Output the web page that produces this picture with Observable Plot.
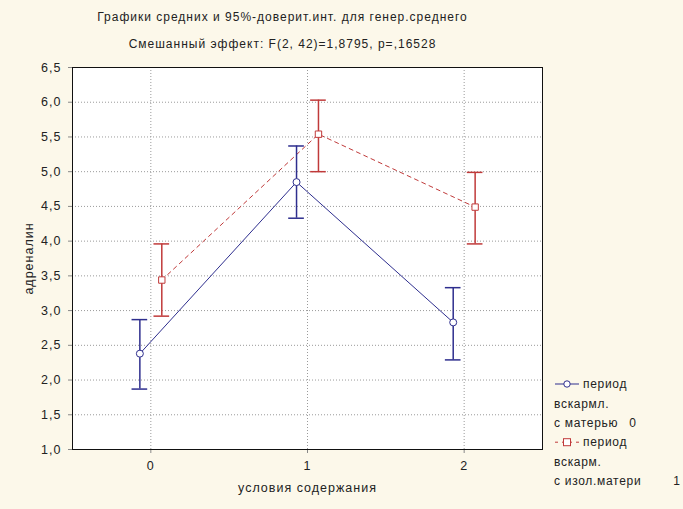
<!DOCTYPE html>
<html><head><meta charset="utf-8">
<script src="https://cdn.jsdelivr.net/npm/d3@7"></script>
<script src="https://cdn.jsdelivr.net/npm/@observablehq/plot@0.6"></script>
<style>
body{margin:0;background:#fcf8ea;}
#chart{width:683px;height:509px;}
#chart svg{font-family:"Liberation Sans",Arial,sans-serif;background:#fcf8ea;}
</style></head><body><div id="chart"></div>
<script>
const conditions = [0, 1, 2];
const meanMother = [2.38, 4.85, 2.83];
const lowMother  = [1.87, 4.33, 2.29];
const highMother = [2.87, 5.37, 3.33];
const meanIsol   = [3.44, 5.54, 4.49];
const lowIsol    = [2.92, 5.00, 3.96];
const highIsol   = [3.96, 6.03, 4.99];
const yTicks = [1.0, 1.5, 2.0, 2.5, 3.0, 3.5, 4.0, 4.5, 5.0, 5.5, 6.0, 6.5];
const titleLines = ["Графики средних и 95%-доверит.инт. для генер.среднего",
                    "Смешанный эффект: F(2, 42)=1,8795, p=,16528"];
const legendLines = [["период", "вскармл.", "с матерью", "0"],
                     ["период", "вскарм.", "с изол.матери", "1"]];
const yLabel = "адреналин";
const xLabel = "условия содержания";

const BLUE = "#2e2e8e", RED = "#c03a3a";
const offset = [-0.07, 0.07];
const capHalf = 0.05;

const rows = [];
conditions.forEach((c, i) => {
  rows.push({cond: c, group: 0, mean: meanMother[i], lo: lowMother[i], hi: highMother[i]});
  rows.push({cond: c, group: 1, mean: meanIsol[i], lo: lowIsol[i], hi: highIsol[i]});
});
const mother = rows.filter(d => d.group === 0);
const isol = rows.filter(d => d.group === 1);
const xpos = d => d.cond + offset[d.group];
const fmt = v => v.toFixed(1).replace(".", ",");
const gridStyle = {stroke: "#9a9a9a", strokeOpacity: 1, strokeDasharray: "1,2"};

const plot = Plot.plot({
  width: 683, height: 509,
  marginLeft: 72, marginRight: 141, marginTop: 67, marginBottom: 60,
  style: {fontFamily: "Liberation Sans, Arial, sans-serif", fontSize: "12px", background: "#fcf8ea", color: "#222", letterSpacing: "1px"},
  x: {domain: [-0.5, 2.5]},
  y: {domain: [1, 6.5]},
  color: {domain: [0, 1], range: [BLUE, RED]},
  marks: [
    Plot.frame({fill: "white", stroke: null}),
    Plot.gridY(yTicks.slice(1, -1), gridStyle),
    Plot.gridX(conditions, gridStyle),
    Plot.line(mother, {x: xpos, y: "mean", stroke: BLUE, strokeWidth: 1}),
    Plot.line(isol, {x: xpos, y: "mean", stroke: RED, strokeWidth: 1, strokeDasharray: "4,4"}),
    Plot.ruleX(rows, {x: xpos, y1: "lo", y2: "hi", stroke: "group", strokeWidth: 1.5}),
    Plot.ruleY(rows, {y: "lo", x1: d => xpos(d) - capHalf, x2: d => xpos(d) + capHalf, stroke: "group", strokeWidth: 1.5}),
    Plot.ruleY(rows, {y: "hi", x1: d => xpos(d) - capHalf, x2: d => xpos(d) + capHalf, stroke: "group", strokeWidth: 1.5}),
    Plot.dot(mother, {x: xpos, y: "mean", symbol: "circle", r: 3.5, fill: "white", stroke: BLUE, strokeWidth: 1}),
    Plot.dot(isol, {x: xpos, y: "mean", symbol: "square", r: 3.6, fill: "white", stroke: RED, strokeWidth: 1}),
    Plot.axisY(yTicks, {tickFormat: fmt, tickSize: 4, tickPadding: 7, stroke: "#888", fontSize: 12.5,
      label: yLabel, labelAnchor: "center", labelArrow: "none", labelOffset: 48}),
    Plot.axisX(conditions, {tickFormat: d => String(d), tickSize: 4, tickPadding: 8, stroke: "#888", fontSize: 12.5,
      label: xLabel, labelAnchor: "center", labelArrow: "none", labelOffset: 42}),
    Plot.frame({stroke: "#111", strokeWidth: 1}),
    Plot.text([titleLines[0]], {text: d => d, frameAnchor: "top", lineAnchor: "middle", dx: -25, dy: -50, fontSize: 12}),
    Plot.text([titleLines[1]], {text: d => d, frameAnchor: "top", lineAnchor: "middle", dx: -25, dy: -23, fontSize: 12})
  ]
});

// Legend (outside frame, right side)
const svg = d3.select(plot);
const lg = svg.append("g").attr("font-size", 12).attr("fill", "#222").attr("text-anchor", "start")
  .style("letter-spacing", "0.7px");
const lx = 555, rowH = 19.4, ly0 = 384;
legendLines.forEach((lines, gi) => {
  const y0 = ly0 + gi * 3 * rowH;
  const color = gi === 0 ? BLUE : RED;
  lg.append("line").attr("x1", lx).attr("x2", lx + 24).attr("y1", y0).attr("y2", y0)
    .attr("stroke", color).attr("stroke-dasharray", gi === 0 ? null : "3,4");
  if (gi === 0) {
    lg.append("circle").attr("cx", lx + 12).attr("cy", y0).attr("r", 3.2).attr("fill", "white").attr("stroke", color);
  } else {
    lg.append("rect").attr("x", lx + 8.5).attr("y", y0 - 3.5).attr("width", 7).attr("height", 7).attr("fill", "white").attr("stroke", color);
  }
  lg.append("text").attr("x", lx + 28).attr("y", y0).attr("dy", "0.35em").text(lines[0]);
  lg.append("text").attr("x", lx - 1).attr("y", y0 + rowH).attr("dy", "0.35em").text(lines[1]);
  lg.append("text").attr("x", lx - 1).attr("y", y0 + 2 * rowH).attr("dy", "0.35em").text(lines[2]);
  lg.append("text").attr("x", gi === 0 ? 633 : 677).attr("y", y0 + 2 * rowH).attr("dy", "0.35em").attr("text-anchor", "middle").text(lines[3]);
});

document.getElementById("chart").appendChild(plot);
</script></body></html>
